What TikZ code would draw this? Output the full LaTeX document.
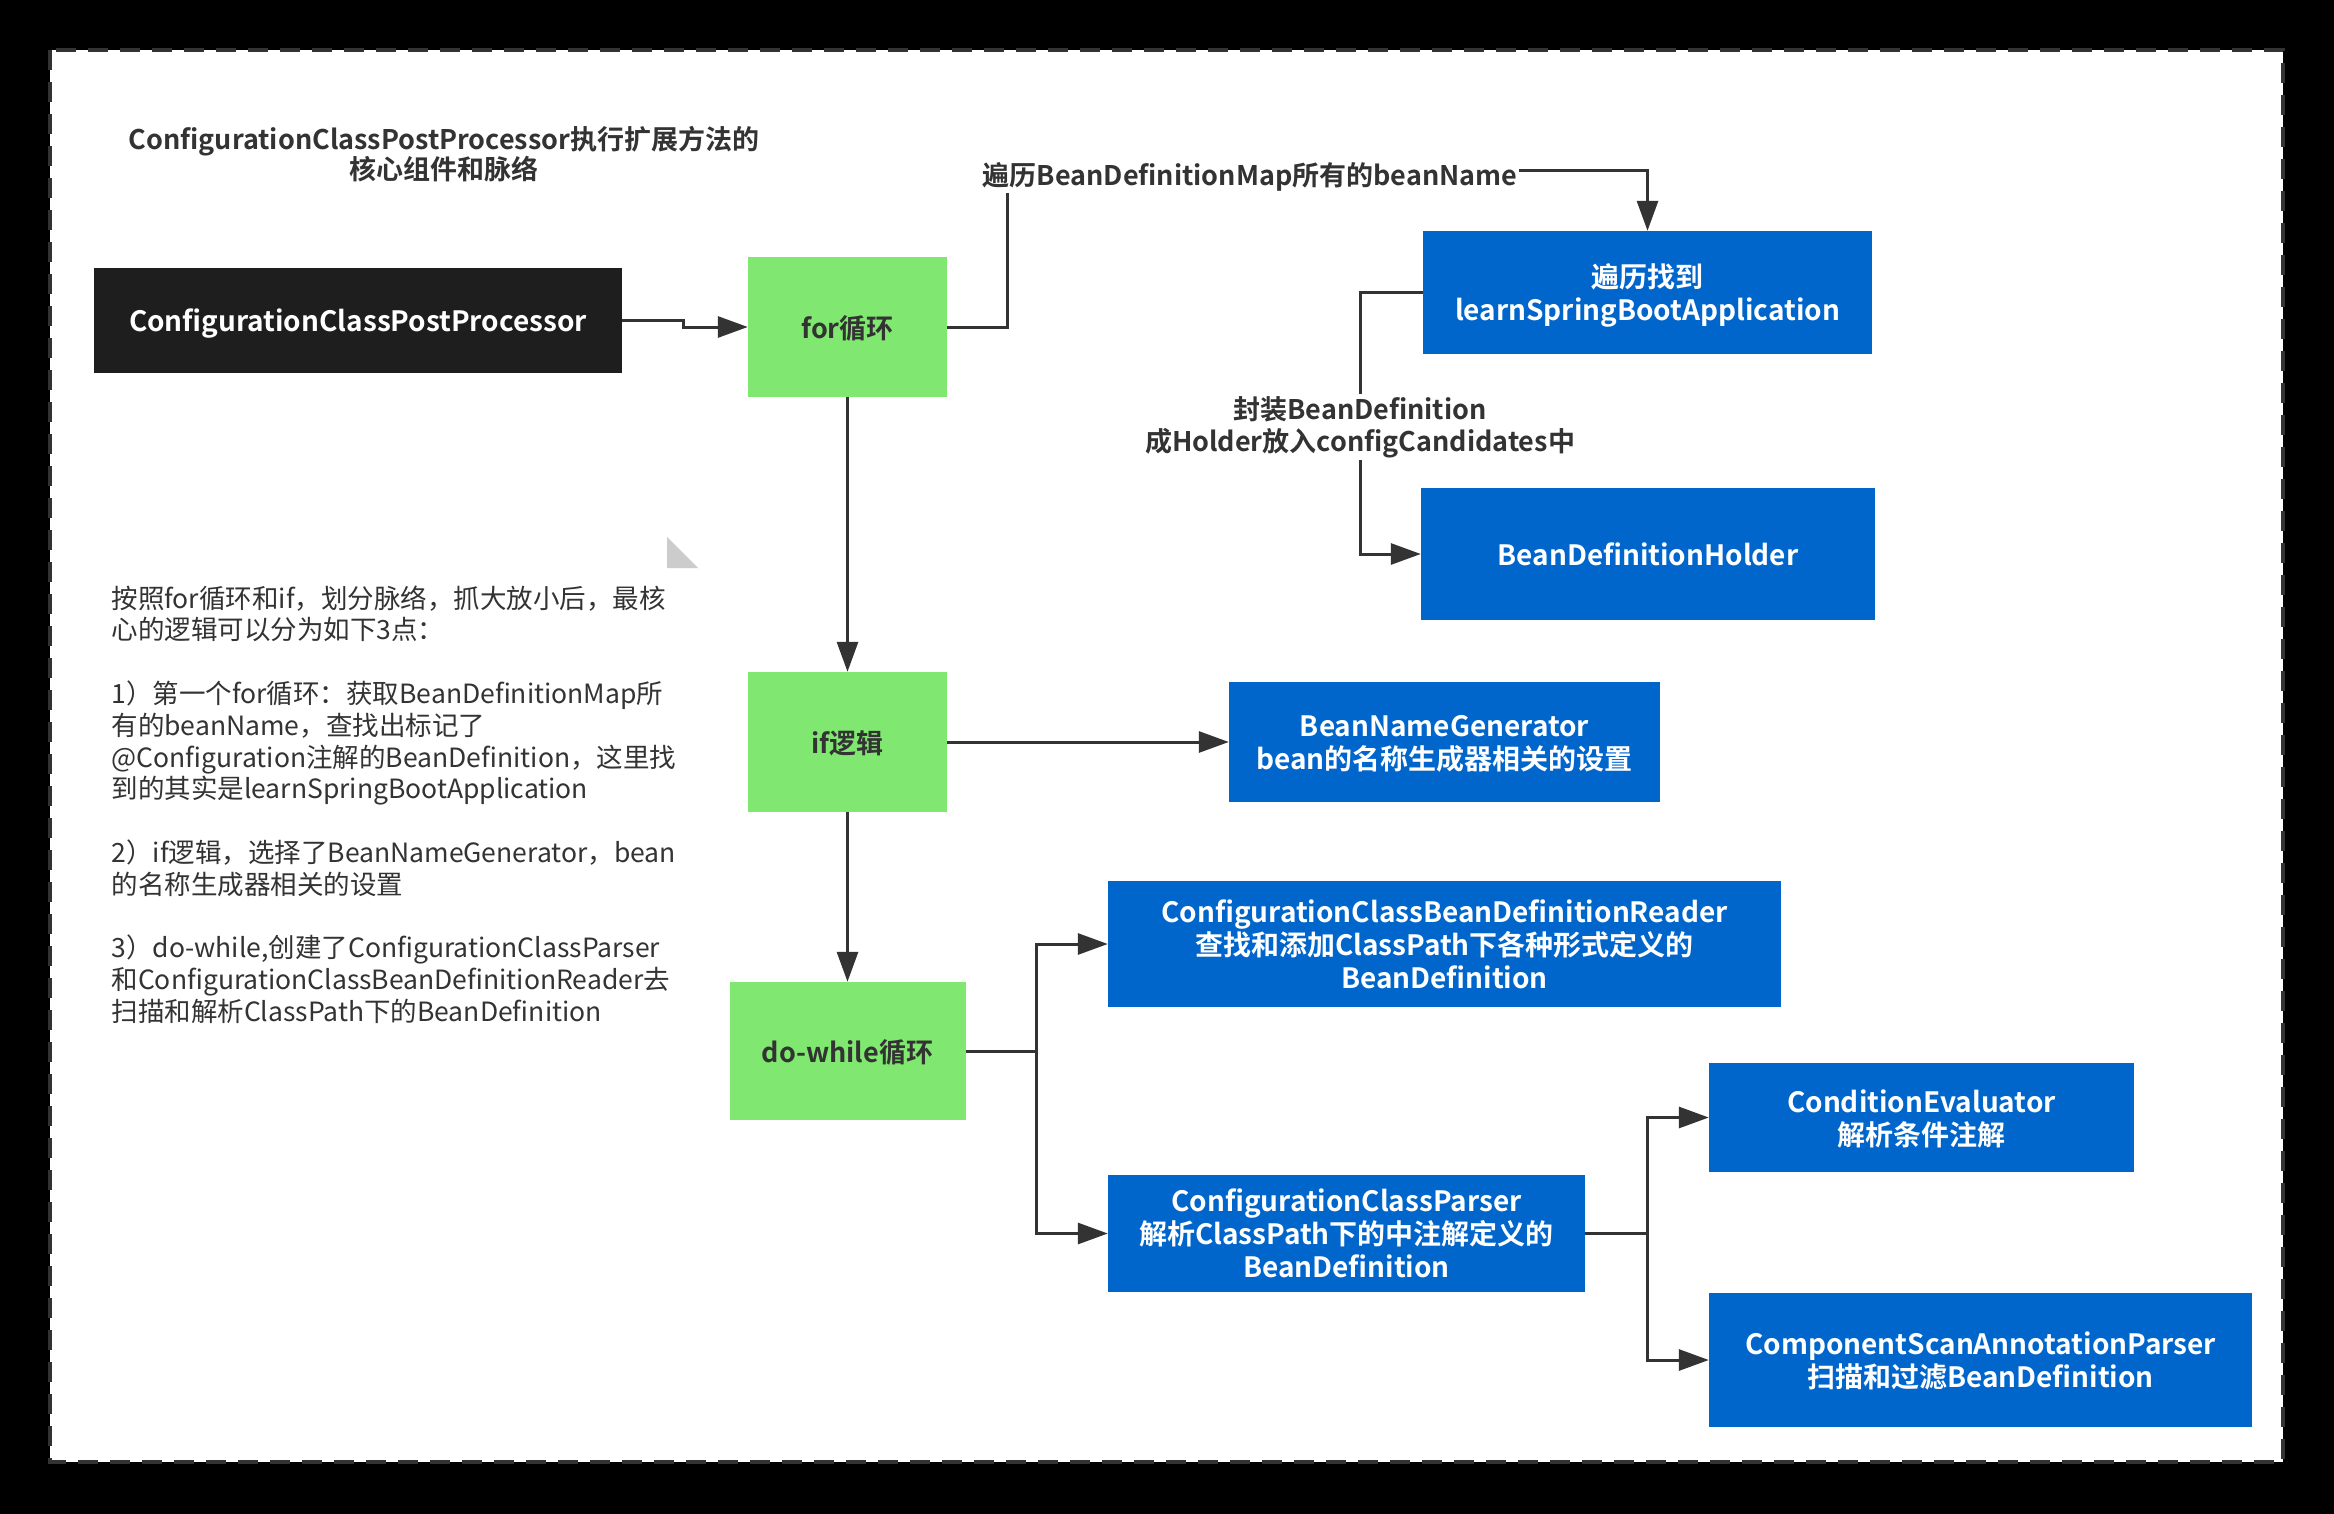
\documentclass[tikz,border=0pt]{standalone}
\usepackage{fontspec}
\setmainfont{Noto Sans CJK SC}[BoldFont={Noto Sans CJK SC Bold}]
\usetikzlibrary{arrows.meta}
\definecolor{boxblack}{HTML}{1E1E1E}
\definecolor{loopgreen}{HTML}{80E870}
\definecolor{compblue}{HTML}{0066CC}
\definecolor{textgray}{HTML}{333333}
\definecolor{linegray}{HTML}{333333}
\definecolor{foldgray}{HTML}{CCCCCC}

\begin{document}
\begin{tikzpicture}[x=1pt,y=-1pt,
darknode/.style={fill=boxblack, text=white, inner sep=0pt, text depth=-11pt, font=\bfseries\fontsize{28}{33}\selectfont},
greennode/.style={fill=loopgreen, text=textgray, inner sep=0pt, text depth=-11pt, font=\bfseries\fontsize{27}{32}\selectfont},
bluenode/.style={fill=compblue, text=white, align=center, inner sep=0pt, text depth=-10pt, font=\bfseries\fontsize{28}{33}\selectfont},
edgelabel/.style={fill=white, text=textgray, align=center, inner sep=2pt, font=\bfseries\fontsize{27}{32}\selectfont},
wire/.style={draw=linegray, line width=3pt},
arr/.style={wire, -{Triangle[length=30pt,width=21pt]}}
]
    \useasboundingbox (0,0) rectangle (2334,1514);
    \fill[black] (0,0) rectangle (2334,1514);
    \fill[white] (50,50) rectangle (2283,1462);
    \draw[linegray, line width=3.5pt, dash pattern=on 20pt off 12pt] (50,50) rectangle (2283,1462);
    \fill[foldgray] (667,537) -- (667,568) -- (698,568) -- cycle;

    \node [text=textgray, align=center, font=\bfseries\fontsize{27}{30}\selectfont] (title) at (444,154)
        {ConfigurationClassPostProcessor执行扩展方法的\\核心组件和脉络};

    \node [darknode, minimum width=528pt, minimum height=105pt] (ccpp) at (358,320.5) {ConfigurationClassPostProcessor};
    \node [greennode, minimum width=199pt, minimum height=140pt] (forloop) at (847.5,327) {for循环};
    \node [greennode, minimum width=199pt, minimum height=140pt] (iflogic) at (847.5,742) {if逻辑};
    \node [greennode, minimum width=236pt, minimum height=138pt] (dowhile) at (847.5,1051) {do-while循环};

    \node [bluenode, minimum width=449pt, minimum height=123pt] (found) at (1647.5,292.5) {遍历找到\\learnSpringBootApplication};
    \node [bluenode, minimum width=454pt, minimum height=132pt] (holder) at (1648,554) {BeanDefinitionHolder};
    \node [bluenode, minimum width=431pt, minimum height=120pt] (namegen) at (1444.5,742) {BeanNameGenerator\\bean的名称生成器相关的设置};
    \node [bluenode, minimum width=673pt, minimum height=126pt] (reader) at (1444.5,944) {ConfigurationClassBeanDefinitionReader\\查找和添加ClassPath下各种形式定义的\\BeanDefinition};
    \node [bluenode, minimum width=477pt, minimum height=117pt] (parser) at (1346.5,1233.5) {ConfigurationClassParser\\解析ClassPath下的中注解定义的\\BeanDefinition};
    \node [bluenode, minimum width=425pt, minimum height=109pt] (condeval) at (1921.5,1117.5) {ConditionEvaluator\\解析条件注解};
    \node [bluenode, minimum width=543pt, minimum height=134pt] (compscan) at (1980.5,1360) {ComponentScanAnnotationParser\\扫描和过滤BeanDefinition};

    \draw [arr] (ccpp.east) -- ++(61,0) |- (forloop.west);
    \draw [arr] (forloop.east) -| (1007,171) -| (found.north);
    \node [edgelabel] (scanlabel) at (1250,177) {遍历BeanDefinitionMap所有的beanName};
    \draw [arr] (found.west) -| (1360,420) |- (holder.west);
    \node [edgelabel] (wraplabel) at (1360,427) {封装BeanDefinition\\成Holder放入configCandidates中};
    \draw [arr] (forloop.south) -- (iflogic.north);
    \draw [arr] (iflogic.east) -- (namegen.west);
    \draw [arr] (iflogic.south) -- (dowhile.north);
    \draw [arr] (dowhile.east) -| (1036,990) |- (reader.west);
    \draw [arr] (dowhile.east) -| (1036,1100) |- (parser.west);
    \draw [arr] (parser.east) -| (1647,1180) |- (condeval.west);
    \draw [arr] (parser.east) -| (1647,1290) |- (compscan.west);

    \node [anchor=west, text=textgray, align=left, font=\fontsize{26.5}{31.8}\selectfont] (notes) at (108,804.5)
        {按照for循环和if，划分脉络，抓大放小后，最核\\
         心的逻辑可以分为如下3点：\\[31.8pt]
         1）第一个for循环：获取BeanDefinitionMap所\\
         有的beanName，查找出标记了\\
         @Configuration注解的BeanDefinition，这里找\\
         到的其实是learnSpringBootApplication\\[31.8pt]
         2）if逻辑，选择了BeanNameGenerator，bean\\
         的名称生成器相关的设置\\[31.8pt]
         3）do-while,创建了ConfigurationClassParser\\
         和ConfigurationClassBeanDefinitionReader去\\
         扫描和解析ClassPath下的BeanDefinition};
\end{tikzpicture}
\end{document}
